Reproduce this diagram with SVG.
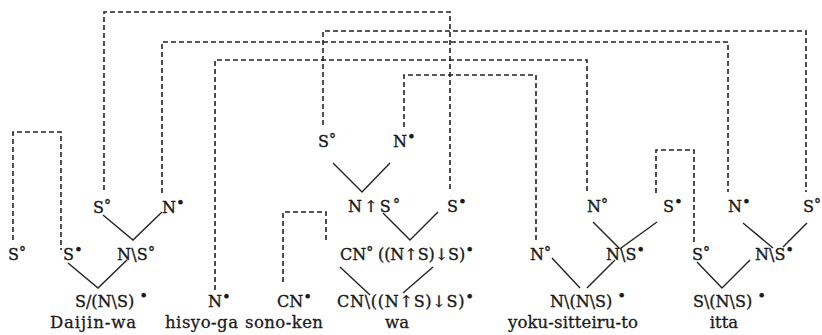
<svg xmlns="http://www.w3.org/2000/svg" width="822" height="335" viewBox="0 0 822 335">
<style>
.c{font-family:"DejaVu Serif","Liberation Serif",serif;font-size:16px;fill:#1a1a1a;stroke:#1a1a1a;stroke-width:0.35}
.w{font-family:"DejaVu Serif","Liberation Serif",serif;font-size:16.5px;fill:#1a1a1a;stroke:#1a1a1a;stroke-width:0.3}
.dg{font-size:14px}
.bl{font-size:15px}
.d{stroke:#222;stroke-width:1.6;stroke-dasharray:5 3;fill:none}
.s{stroke:#222;stroke-width:1.4;fill:none}
</style>
<rect width="822" height="335" fill="#fff"/>
<g id="connectors">
<path class="d" d="M104,190V12H450V190"/>
<path class="d" d="M323,125V31H806V192"/>
<path class="d" d="M162,193V42H728V192"/>
<path class="d" d="M215,290V60H587V192"/>
<path class="d" d="M404,127V75H536V242"/>
<path class="d" d="M656,193V150H694V242"/>
<path class="d" d="M13,240V132H61V250"/>
<path class="d" d="M283,282V212H326V240"/>
<path class="s" d="M103,215L133,240L162,212"/>
<path class="s" d="M68,263L98,288L127,260"/>
<path class="s" d="M333,163L362,192L390,163"/>
<path class="s" d="M383,213L410,240L438,212"/>
<path class="s" d="M340,267L370,295"/>
<path class="s" d="M433,267L403,293"/>
<path class="s" d="M593,222L619,248"/>
<path class="s" d="M657,222L621,248"/>
<path class="s" d="M552,258L580,288"/>
<path class="s" d="M615,260L587,288"/>
<path class="s" d="M743,223L773,248"/>
<path class="s" d="M807,223L783,247"/>
<path class="s" d="M697,262L722,288L750,260"/>
</g>
<g id="n-daijin-s-top"><text class="c" x="93" y="213">S<tspan class="dg" dy="-3">°</tspan></text></g>
<g id="n-daijin-n-top"><text class="c" x="162" y="213">N<tspan class="bl" dy="-5">•</tspan></text></g>
<g id="n-left-s"><text class="c" x="8" y="260">S<tspan class="dg" dy="-3">°</tspan></text></g>
<g id="n-daijin-s"><text class="c" x="63" y="260">S<tspan class="bl" dy="-5">•</tspan></text></g>
<g id="n-daijin-ns"><text class="c" x="117" y="260" textLength="38">N\S<tspan class="dg" dy="-3">°</tspan></text></g>
<g id="n-daijin"><text class="c" x="75" y="307">S/(N\S) <tspan class="bl" dy="-6">•</tspan></text></g>
<g id="n-hisyo"><text class="c" x="208" y="307">N<tspan class="bl" dy="-5">•</tspan></text></g>
<g id="n-sono"><text class="c" x="277" y="307">CN<tspan class="bl" dy="-5">•</tspan></text></g>
<g id="n-wa-cn"><text class="c" x="340" y="260">CN<tspan class="dg" dy="-3">°</tspan></text></g>
<g id="n-wa-q"><text class="c" x="378" y="260" textLength="96">((N↑S)↓S)<tspan class="bl" dy="-5">•</tspan></text></g>
<g id="n-wa"><text class="c" x="337" y="307" textLength="137">CN\((N↑S)↓S)<tspan class="bl" dy="-5">•</tspan></text></g>
<g id="n-wa-nus"><text class="c" x="348" y="212" textLength="52">N↑S<tspan class="dg" dy="-3">°</tspan></text></g>
<g id="n-wa-s"><text class="c" x="447" y="212">S<tspan class="bl" dy="-5">•</tspan></text></g>
<g id="n-wa-s-top"><text class="c" x="318" y="147">S<tspan class="dg" dy="-3">°</tspan></text></g>
<g id="n-wa-n-top"><text class="c" x="393" y="147">N<tspan class="bl" dy="-5">•</tspan></text></g>
<g id="n-yoku-n"><text class="c" x="530" y="260">N<tspan class="dg" dy="-3">°</tspan></text></g>
<g id="n-yoku-n-top"><text class="c" x="587" y="212">N<tspan class="dg" dy="-3">°</tspan></text></g>
<g id="n-yoku-s-top"><text class="c" x="663" y="212">S<tspan class="bl" dy="-5">•</tspan></text></g>
<g id="n-yoku-ns"><text class="c" x="606" y="260">N\S<tspan class="bl" dy="-5">•</tspan></text></g>
<g id="n-yoku"><text class="c" x="550" y="307">N\(N\S) <tspan class="bl" dy="-6">•</tspan></text></g>
<g id="n-itta-s"><text class="c" x="692" y="260">S<tspan class="dg" dy="-3">°</tspan></text></g>
<g id="n-itta-n-top"><text class="c" x="728" y="212">N<tspan class="bl" dy="-5">•</tspan></text></g>
<g id="n-itta-s-top"><text class="c" x="803" y="212">S<tspan class="dg" dy="-3">°</tspan></text></g>
<g id="n-itta-ns"><text class="c" x="755" y="260">N\S<tspan class="bl" dy="-5">•</tspan></text></g>
<g id="n-itta"><text class="c" x="693" y="307">S\(N\S) <tspan class="bl" dy="-6">•</tspan></text></g>
<g id="words">
<text class="w" x="50" y="328" textLength="86">Daijin-wa</text>
<text class="w" x="165" y="328" textLength="73">hisyo-ga</text>
<text class="w" x="245" y="328" textLength="78">sono-ken</text>
<text class="w" x="397" y="328" text-anchor="middle">wa</text>
<text class="w" x="508" y="328" textLength="130">yoku-sitteiru-to</text>
<text class="w" x="724" y="328" text-anchor="middle">itta</text>
</g>
</svg>
